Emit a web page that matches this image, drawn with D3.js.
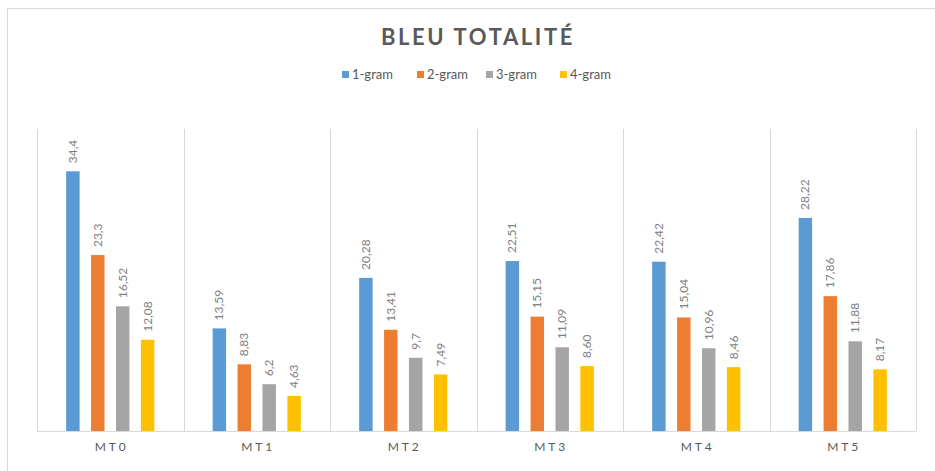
<!DOCTYPE html>
<html>
<head>
<meta charset="utf-8">
<script src="https://cdn.jsdelivr.net/npm/d3@7"></script>
<style>
  body { margin: 0; background: #fff; }
  svg { display: block; font-family: Lato, "Open Sans", sans-serif; }
</style>
</head>
<body>
<svg id="chart"></svg>
<script>
var categories = ["MT0", "MT1", "MT2", "MT3", "MT4", "MT5"];
var seriesNames = ["1-gram", "2-gram", "3-gram", "4-gram"];
var gram1 = [34.4, 13.59, 20.28, 22.51, 22.42, 28.22];
var gram2 = [23.3, 8.83, 13.41, 15.15, 15.04, 17.86];
var gram3 = [16.52, 6.2, 9.7, 11.09, 10.96, 11.88];
var gram4 = [12.08, 4.63, 7.49, 8.60, 8.46, 8.17];
// labels as printed on the chart (comma decimals)
var labels1 = ["34,4", "13,59", "20,28", "22,51", "22,42", "28,22"];
var labels2 = ["23,3", "8,83", "13,41", "15,15", "15,04", "17,86"];
var labels3 = ["16,52", "6,2", "9,7", "11,09", "10,96", "11,88"];
var labels4 = ["12,08", "4,63", "7,49", "8,60", "8,46", "8,17"];
var colors = ["#5B9BD5", "#ED7D31", "#A5A5A5", "#FFC000"];

var series = [gram1, gram2, gram3, gram4];
var seriesLabels = [labels1, labels2, labels3, labels4];

var width = 935, height = 471;
var svg = d3.select("#chart").attr("width", width).attr("height", height);

// outer chart frame (only top & left visible)
svg.append("rect")
    .attr("x", 7.5).attr("y", 8.5)
    .attr("width", 960).attr("height", 500)
    .attr("fill", "none").attr("stroke", "#d9d9d9");

var x0 = d3.scaleBand().domain(categories).range([37, 916]).padding(0);
var x1 = d3.scaleBand().domain(seriesNames).range([0, x0.bandwidth()])
    .paddingInner(0.46).paddingOuter(1.17);
var y = d3.scaleLinear().domain([0, 40]).range([431, 129]);

// vertical separators between categories
var bounds = categories.map(c => x0(c)).concat([x0.range()[1]]);
svg.selectAll(".sep")
    .data(bounds)
    .enter().append("line")
    .attr("class", "sep")
    .attr("x1", d => Math.round(d) + 0.5).attr("x2", d => Math.round(d) + 0.5)
    .attr("y1", y(40)).attr("y2", y(0))
    .attr("stroke", "#d9d9d9");

// baseline
svg.append("line")
    .attr("x1", 37).attr("x2", 916)
    .attr("y1", y(0) + 0.5).attr("y2", y(0) + 0.5)
    .attr("stroke", "#d9d9d9");

var rows = [];
categories.forEach((c, i) => {
    seriesNames.forEach((s, j) => {
        rows.push({ cat: c, name: s, value: series[j][i], label: seriesLabels[j][i], color: colors[j] });
    });
});

svg.selectAll(".bar")
    .data(rows)
    .enter().append("rect")
    .attr("class", "bar")
    .attr("x", d => x0(d.cat) + x1(d.name))
    .attr("y", d => y(d.value))
    .attr("width", x1.bandwidth())
    .attr("height", d => y(0) - y(d.value))
    .attr("fill", d => d.color);

// rotated value labels
svg.selectAll(".val")
    .data(rows)
    .enter().append("text")
    .attr("class", "val")
    .attr("transform", d => {
        var cx = x0(d.cat) + x1(d.name) + x1.bandwidth() / 2 + 4;
        var cy = y(d.value) - 8;
        return "translate(" + cx + "," + cy + ") rotate(-90)";
    })
    .attr("font-size", 12)
    .attr("fill", "#808080")
    .text(d => d.label);

// category labels
svg.selectAll(".cat")
    .data(categories)
    .enter().append("text")
    .attr("class", "cat")
    .attr("x", d => x0(d) + x0.bandwidth() / 2 + 1.5)
    .attr("y", 451)
    .attr("text-anchor", "middle")
    .attr("font-size", 12)
    .attr("letter-spacing", 3)
    .attr("fill", "#595959")
    .text(d => d);

// title
svg.append("text")
    .attr("x", 478).attr("y", 45)
    .attr("text-anchor", "middle")
    .attr("font-size", 22)
    .attr("font-weight", "bold")
    .attr("letter-spacing", 2.6)
    .attr("fill", "#595959")
    .text("BLEU TOTALITÉ");

// legend
var legendX = [342, 417, 486, 560];
var legend = svg.selectAll(".leg")
    .data(seriesNames)
    .enter().append("g")
    .attr("class", "leg")
    .attr("transform", (d, i) => "translate(" + legendX[i] + ",71)");
legend.append("rect")
    .attr("width", 7).attr("height", 7)
    .attr("fill", (d, i) => colors[i]);
legend.append("text")
    .attr("x", 10).attr("y", 7.5)
    .attr("font-size", 13)
    .attr("fill", "#595959")
    .text(d => d);
</script>
</body>
</html>
